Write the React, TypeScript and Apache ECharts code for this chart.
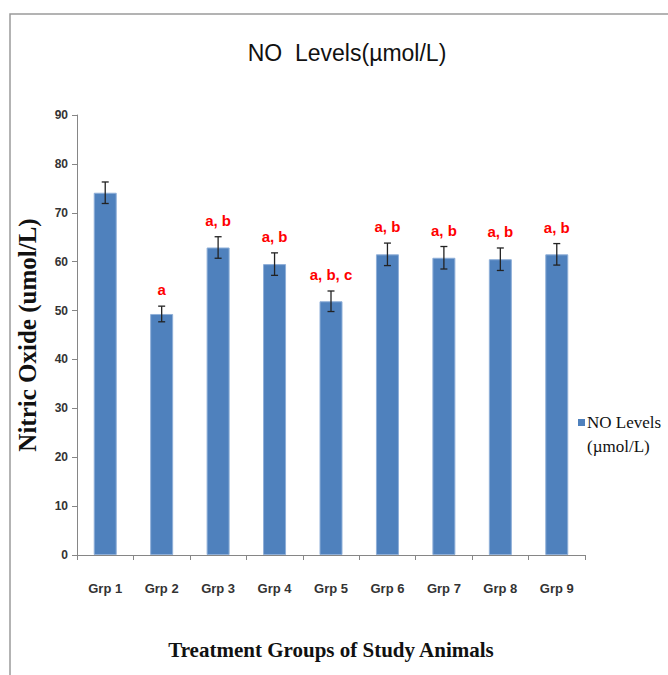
import React, { useEffect, useRef } from "react";
import * as echarts from "echarts";

const categories = ["Grp 1", "Grp 2", "Grp 3", "Grp 4", "Grp 5", "Grp 6", "Grp 7", "Grp 8", "Grp 9"];
const noLevels = [74.1, 49.3, 62.9, 59.5, 51.9, 61.5, 60.8, 60.5, 61.5];
const errors = [2.2, 1.6, 2.2, 2.3, 2.1, 2.3, 2.3, 2.3, 2.2];
const sigLabels = ["", "a", "a, b", "a, b", "a, b, c", "a, b", "a, b", "a, b", "a, b"];
const yMin = 0;
const yMax = 90;
const yInterval = 10;

const NARROW = "'Liberation Sans Narrow', 'Liberation Sans', Arial, sans-serif";
const SERIF = "'Liberation Serif', 'Times New Roman', serif";

export default function App() {
  const ref = useRef<HTMLDivElement>(null);
  useEffect(() => {
    const chart = echarts.init(ref.current!, null, { renderer: "svg" });
    chart.setOption({
      animation: false,
      backgroundColor: "#ffffff",
      title: {
        text: "NO  Levels(µmol/L)",
        left: 342,
        top: 36,
        textAlign: "center",
        textStyle: { fontFamily: NARROW, fontSize: 23, fontWeight: "normal", color: "#111" },
      },
      grid: { left: 77, right: 83, top: 115, bottom: 120, containLabel: false },
      xAxis: {
        type: "category",
        data: categories,
        name: "Treatment Groups of Study Animals",
        nameLocation: "middle",
        nameGap: 84,
        nameTextStyle: { fontFamily: SERIF, fontSize: 21, fontWeight: "bold", color: "#111" },
        axisLine: { show: true, lineStyle: { color: "#868686", width: 1 } },
        axisTick: { show: true, length: 5, alignWithLabel: false, lineStyle: { color: "#868686" } },
        axisLabel: { margin: 27, fontFamily: NARROW, fontSize: 13, fontWeight: "bold", color: "#333" },
        splitLine: { show: false },
      },
      yAxis: {
        type: "value",
        min: yMin,
        max: yMax,
        interval: yInterval,
        name: "Nitric Oxide (umol/L)",
        nameLocation: "middle",
        nameGap: 37,
        nameTextStyle: { fontFamily: SERIF, fontSize: 25, fontWeight: "bold", color: "#111" },
        axisLine: { show: true, lineStyle: { color: "#868686", width: 1 } },
        axisTick: { show: true, length: 5, lineStyle: { color: "#868686" } },
        axisLabel: { margin: 9, fontFamily: NARROW, fontSize: 12, fontWeight: "bold", color: "#333" },
        splitLine: { show: false },
      },
      series: [
        {
          name: "NO Levels (µmol/L)",
          type: "bar",
          data: noLevels,
          barWidth: 23,
          itemStyle: { color: "#4F81BD", borderColor: "#8FAFD8", borderWidth: 1 },
          z: 2,
        },
        {
          type: "custom",
          data: noLevels.map((v, i) => [i, v, errors[i]]),
          encode: { x: 0, y: 1 },
          z: 5,
          renderItem: (params: any, api: any) => {
            const i = api.value(0);
            const v = api.value(1);
            const e = api.value(2);
            const top = api.coord([i, v + e]);
            const bot = api.coord([i, v - e]);
            const half = 3.5;
            const style = { stroke: "#222", lineWidth: 1.3 };
            const label = sigLabels[params.dataIndex];
            return {
              type: "group",
              children: [
                { type: "line", shape: { x1: top[0], y1: top[1], x2: bot[0], y2: bot[1] }, style },
                { type: "line", shape: { x1: top[0] - half, y1: top[1], x2: top[0] + half, y2: top[1] }, style },
                { type: "line", shape: { x1: bot[0] - half, y1: bot[1], x2: bot[0] + half, y2: bot[1] }, style },
                {
                  type: "text",
                  x: top[0],
                  y: top[1] - 9,
                  style: {
                    text: label,
                    fill: "#FF0000",
                    font: `bold 15px ${NARROW}`,
                    textAlign: "center",
                    textVerticalAlign: "bottom",
                  },
                },
              ],
            };
          },
        },
      ],
      graphic: [
        {
          type: "rect",
          shape: { x: 10, y: 14, width: 800, height: 800 },
          style: { fill: "none", stroke: "#9a9a9a", lineWidth: 1.5 },
          silent: true,
        },
        {
          type: "rect",
          shape: { x: 578, y: 419, width: 7, height: 7 },
          style: { fill: "#4F81BD" },
        },
        {
          type: "text",
          x: 587,
          y: 410,
          style: {
            text: "NO Levels\n(µmol/L)",
            font: `17px ${SERIF}`,
            fill: "#111",
            lineHeight: 24,
          },
        },
      ],
    });
    return () => chart.dispose();
  }, []);
  return <div ref={ref} style={{ position: "absolute", left: 0, top: 0, width: 668, height: 675 }} />;
}
